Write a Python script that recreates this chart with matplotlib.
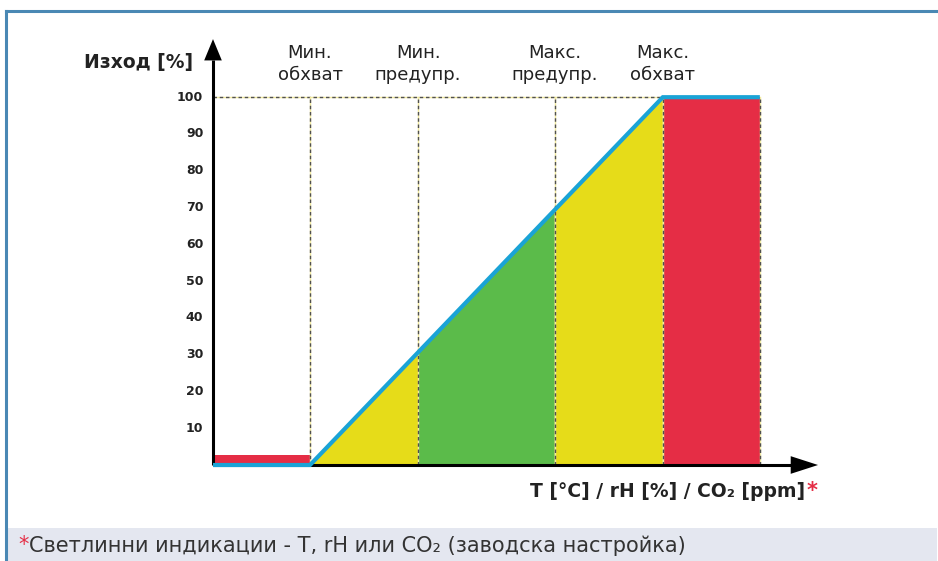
import matplotlib.pyplot as plt
from matplotlib.patches import Rectangle, Polygon

# x positions of the thresholds (arbitrary sensor units), output in %
x_min_range = 22
x_min_warn = 46.5
x_max_warn = 77.5
x_max_range = 102
x_end = 124
red_low = 2.7  # small red band below min range

ticks = [10, 20, 30, 40, 50, 60, 70, 80, 90, 100]
zone_labels = ['Мин.\nобхват', 'Мин.\nпредупр.', 'Макс.\nпредупр.', 'Макс.\nобхват']
zone_x = [x_min_range, x_min_warn, x_max_warn, x_max_range]

YELLOW = '#e6dc19'
GREEN = '#5bbb4a'
RED = '#e52d45'
BLUE = '#1aa3d6'


def out(x):
    # linear output between min and max range
    if x <= x_min_range:
        return 0
    if x >= x_max_range:
        return 100
    return (x - x_min_range) / (x_max_range - x_min_range) * 100


fig = plt.figure(figsize=(9.38, 5.61), dpi=100)

# frame and caption band
fig.add_artist(plt.Line2D([6/938, 1], [1 - 11/561, 1 - 11/561], color='#4a88b4', lw=2.2))
fig.add_artist(plt.Line2D([6/938, 6/938], [0, 1 - 11/561], color='#4a88b4', lw=2.2))
fig.add_artist(Rectangle((7/938, 0), 930/938, 33/561, color='#e4e7f0', lw=0))

ax = fig.add_axes([213/938, 96/561, 617.4/938, 434/561])
ax.set_xlim(0, 140)
ax.set_ylim(0, 118)
ax.axis('off')

# coloured zones
ax.add_patch(Rectangle((0, 0), x_min_range, red_low, color=RED, lw=0))
ax.add_patch(Polygon([(x_min_range, 0), (x_min_warn, out(x_min_warn)), (x_min_warn, 0)], color=YELLOW, lw=0))
ax.add_patch(Polygon([(x_min_warn, 0), (x_min_warn, out(x_min_warn)), (x_max_warn, out(x_max_warn)), (x_max_warn, 0)], color=GREEN, lw=0))
ax.add_patch(Polygon([(x_max_warn, 0), (x_max_warn, out(x_max_warn)), (x_max_range, 100), (x_max_range, 0)], color=YELLOW, lw=0))
ax.add_patch(Rectangle((x_max_range, 0), x_end - x_max_range, 100, color=RED, lw=0))

# dotted guide lines
def guide(xs, ys):
    ax.plot(xs, ys, color='#f1eaa0', lw=1, zorder=3)
    ax.plot(xs, ys, color='#505050', lw=1, ls=(0, (2.5, 2)), zorder=3)

guide([0, x_max_range], [100, 100])
for x in [x_min_range, x_min_warn, x_max_warn, x_max_range, x_end]:
    guide([x, x], [0, 100])

# axes with arrows
ax.plot([0, 0], [0, 110], color='black', lw=2.2, zorder=4, solid_capstyle='butt', clip_on=False)
ax.plot([0, 131], [0, 0], color='black', lw=2.2, zorder=4, solid_capstyle='butt', clip_on=False)
ax.add_patch(Polygon([(-2.0, 110), (2.0, 110), (0, 115.8)], color='black', lw=0, zorder=4, clip_on=False))
ax.add_patch(Polygon([(131, -2.4), (131, 2.4), (137.2, 0)], color='black', lw=0, zorder=4, clip_on=False))

# output curve
ax.plot([0, x_min_range, x_max_range, x_end], [0, 0, 100, 100], color=BLUE, lw=3, zorder=5,
        solid_capstyle='butt', solid_joinstyle='miter', clip_on=False)

for t in ticks:
    ax.text(-2.2, t, str(t), ha='right', va='center', fontsize=9, fontweight='bold', color='#222222')

for x, lab in zip(zone_x, zone_labels):
    ax.text(x, 109, lab, ha='center', va='center', fontsize=13, color='#222222', linespacing=1.25)

ax.text(-4.5, 109.5, 'Изход [%]', ha='right', va='center', fontsize=13.5, fontweight='bold', color='#222222')

xl = ax.text(134.3, -7.3, 'T [°C] / rH [%] / CO₂ [ppm]', ha='right', va='center',
             fontsize=13.5, fontweight='bold', color='#222222')
ax.annotate('*', xy=(1, 0.55), xycoords=xl, xytext=(1, 0), textcoords='offset points',
            ha='left', va='center', fontsize=15, fontweight='bold', color=RED)

fig.text(18/938, 16/561, '*', ha='left', va='center', fontsize=15, color=RED)
fig.text(29/938, 15/561, 'Светлинни индикации - T, rH или CO₂ (заводска настройка)',
         ha='left', va='center', fontsize=15, color='#333333')

fig.savefig('out.png', dpi=100)
